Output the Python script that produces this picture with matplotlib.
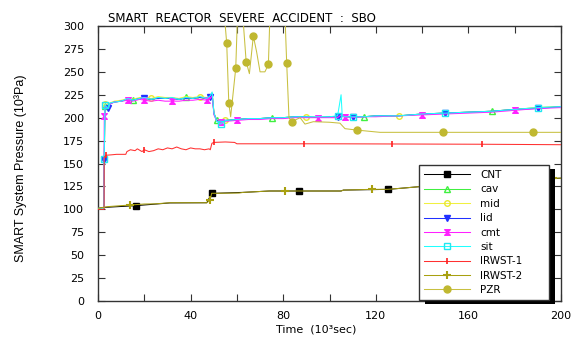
import matplotlib
matplotlib.use("Agg")
import matplotlib.pyplot as plt
from matplotlib.path import Path
from matplotlib.patches import Rectangle
from matplotlib.ticker import MultipleLocator

# ---------------- data ----------------
# shared time grid for the RCS-like group (10^3 s)
t_grp = [0, 2.5, 2.7, 3.0, 4.5, 5.2, 7, 10, 13, 15, 18, 20, 23, 26, 29, 32, 35, 38, 41, 44,
         47, 48.5, 49.3, 50.1, 51.3, 53, 55, 60, 65, 70, 75, 80, 85, 90, 95, 100, 103.5,
         105, 105.5, 106.5, 110, 115, 120, 130, 140, 150, 160, 170, 180, 190, 200]

cav = [101, 101, 150, 213, 210, 216, 217, 218, 220, 219, 221, 221, 220, 222, 221, 221, 220, 222,
       221, 222, 221, 223, 226, 205, 197, 196, 197, 198, 199, 199, 200, 200, 201, 201, 200, 201,
       201, 203, 202, 201, 201, 201, 202, 202, 204, 205, 206, 207, 209, 211, 212]
mid = [101, 101, 152, 215, 211, 216, 218, 219, 221, 220, 222, 222, 221, 223, 222, 222, 221, 223,
       222, 223, 222, 224, 227, 205, 197, 196, 197, 198, 199, 199, 200, 200, 201, 201, 201, 201,
       201, 203, 202, 201, 201, 201, 202, 202, 204, 205, 206, 207, 209, 211, 212]
lid = [101, 101, 154, 212, 211, 215, 217, 218, 220, 219, 221, 221, 220, 221, 221, 221, 220, 221,
       221, 222, 221, 222, 226, 204, 197, 195, 197, 198, 199, 199, 200, 200, 201, 201, 200, 201,
       201, 204, 202, 201, 201, 201, 202, 202, 204, 205, 206, 207, 209, 210, 212]
cmt = [101, 101, 202, 212, 210, 215, 217, 218, 219, 218, 220, 219, 218, 219, 218, 218, 218, 219,
       219, 220, 219, 221, 224, 203, 196, 195, 196, 197, 198, 198, 199, 199, 200, 200, 200, 200,
       200, 203, 201, 201, 200, 201, 201, 202, 203, 204, 205, 206, 208, 210, 211]
sit = [101, 101, 155, 214, 210, 216, 217, 218, 221, 219, 221, 222, 220, 222, 221, 222, 220, 222,
       221, 223, 221, 224, 228, 205, 196, 193, 197, 198, 199, 199, 200, 200, 201, 201, 201, 201,
       202, 225, 202, 201, 201, 201, 202, 202, 204, 205, 206, 207, 209, 211, 212]

t_cnt = [0, 2, 16.3, 31, 47, 49.1, 50.5, 62.8, 74, 87, 105, 106, 125.4, 131, 140, 160, 180, 200]
cnt = [101, 102, 104, 107, 107.2, 117.5, 117.5, 118.5, 120, 120, 120, 121, 121.8, 123, 125, 128,
       131, 134]

t_irw1 = [0, 2.6, 2.7, 3.5, 6, 8, 12, 12.5, 14, 16, 17, 19, 20, 22, 24, 26, 28, 30, 32, 34, 36,
          38, 40, 42, 44, 46, 48, 48.5, 49.2, 50, 55, 59, 60, 89, 100, 127, 140, 166, 180, 200]
irwst1 = [100, 100, 157, 159, 159.5, 160, 160, 163, 165, 164, 166, 163, 165, 163, 164, 166, 165,
          167, 166, 168, 166, 165, 167, 166, 166, 165, 166, 165, 172, 173, 173.5, 173, 171.5,
          171.5, 171.5, 171.3, 171.2, 171, 170.8, 170.5]

t_irw2 = [0, 2, 4.5, 13.8, 20, 25, 31, 47, 48.4, 49.1, 50.5, 61, 62.8, 74, 80.8, 87, 105, 106,
          118.2, 125, 131, 140, 160, 180, 196.4, 200]
irwst2 = [101, 102, 103, 104.7, 105.8, 106, 107.2, 107.2, 110, 117.5, 117.5, 117.8, 118.5, 120,
          120, 120, 120, 121, 121.8, 121.8, 123, 125, 128, 131, 134, 134]

t_pzr = [0, 54, 55.6, 56.5, 57.3, 59.5, 60.5, 62, 64, 65.4, 67.1, 68.5, 70, 72.1, 73.6, 74.5,
         80.5, 81.5, 82.5, 83.7, 87.3, 89.4, 93, 100, 104.5, 106.7, 111.7, 121.8, 149, 188, 200]
pzr = [330, 330, 281, 216, 201, 254, 330, 330, 261, 248, 289, 272, 250, 250, 258, 330, 330, 260,
       200, 195.6, 200, 193, 195.6, 195, 194, 188, 186.5, 184, 184, 184, 184]

x_ticks = [0, 40, 80, 120, 160, 200]
y_ticks = [0, 25, 50, 75, 100, 125, 150, 175, 200, 225, 250, 275, 300]

# ---------------- figure ----------------
fig = plt.figure(figsize=(5.79, 3.38), dpi=100)
ax = fig.add_axes([98 / 579, 37 / 338, 463 / 579, 275 / 338])

hourglass = Path([(-1, 1), (1, 1), (-1, -1), (1, -1), (-1, 1)],
                 [Path.MOVETO, Path.LINETO, Path.LINETO, Path.LINETO, Path.CLOSEPOLY])

lw = 0.75
ax.plot(t_cnt, cnt, color='black', lw=lw, marker='s', ms=5, mfc='black', mec='black',
        markevery=[2, 5, 9, 12], label='CNT', zorder=3)
ax.plot(t_grp, cav, color='#40f040', lw=lw, marker='^', ms=4, mfc='none', mec='#40f040',
        markevery=[3, 9, 17, 24, 30, 41, 47], label='cav', zorder=3)
ax.plot(t_grp, mid, color='#f0f040', lw=lw, marker='o', ms=4, mfc='none', mec='#e8e830',
        markevery=[3, 12, 19, 26, 33, 43], label='mid', zorder=3)
ax.plot(t_grp, lid, color='#2030ff', lw=lw, marker='v', ms=4, mfc='#2030ff', mec='#2030ff',
        markevery=[2, 4, 11, 21, 36, 40, 45, 49], label='lid', zorder=3)
ax.plot(t_grp, cmt, color='#ff20ff', lw=lw, marker=hourglass, ms=4, mfc='#ff20ff',
        mec='#ff20ff', markevery=[2, 8, 11, 15, 20, 25, 27, 34, 39, 44, 48], label='cmt',
        zorder=3)
ax.plot(t_grp, sit, color='#20ffff', lw=lw, marker='s', ms=4.5, mfc='none', mec='#20e8f0',
        markevery=[2, 3, 25, 36, 40, 45, 49], label='sit', zorder=3)
ax.plot(t_irw1, irwst1, color='#ff3030', lw=lw, marker='|', ms=5, mec='#ff2020', mew=1.2,
        markevery=[3, 12, 29, 33, 35, 37], label='IRWST-1', zorder=3)
ax.plot(t_irw2, irwst2, color='#a8a010', lw=lw, marker='+', ms=6, mec='#a8a010', mew=1.5,
        markevery=[3, 8, 14, 18, 24], label='IRWST-2', zorder=4)
ax.plot(t_pzr, pzr, color='#c8c040', lw=lw, marker='o', ms=5, mfc='#c0b830', mec='#c0b830',
        markevery=[2, 3, 5, 8, 10, 14, 17, 19, 26, 28, 29], label='PZR', zorder=3)

ax.set_xlim(0, 200)
ax.set_ylim(0, 300)
ax.set_xticks(x_ticks)
ax.set_yticks(y_ticks)
ax.xaxis.set_minor_locator(MultipleLocator(20))
ax.tick_params(which='both', direction='in', top=True, right=True, length=5, width=0.8,
               colors='#333333', labelcolor='black')
ax.tick_params(axis='y', pad=10, labelsize=8)
ax.tick_params(axis='x', pad=7, labelsize=8)
for s in ax.spines.values():
    s.set_linewidth(1.0)
    s.set_color('#333333')

fig.text(108 / 579, 1 - 19 / 338, 'SMART  REACTOR  SEVERE  ACCIDENT  :  SBO', ha='left',
         va='center', fontsize=8.5, family='DejaVu Sans')
fig.text(21 / 579, 1 - 168 / 338, 'SMART System Pressure (10³Pa)', rotation=90, ha='center',
         va='center', fontsize=9, family=['Liberation Sans Narrow', 'Liberation Sans'])
fig.text(316 / 579, 1 - 330 / 338, 'Time  (10³sec)', ha='center', va='center', fontsize=8,
         family='DejaVu Sans')

leg = ax.legend(loc='upper left', bbox_to_anchor=(0.693, 0.029, 0.281, 0.466), mode='expand',
                borderaxespad=0, fontsize=7.5, handlelength=4.4, handletextpad=1.0,
                labelspacing=0.42, fancybox=False, framealpha=1, edgecolor='#333333',
                borderpad=0.5)
leg.get_frame().set_linewidth(1.0)
leg.set_zorder(10)

fig.canvas.draw()
bb = leg.get_window_extent()
shadow = Rectangle((bb.x0 + 6, bb.y0 - 4), bb.width, bb.height, transform=None,
                   facecolor='black', edgecolor='none', zorder=9)
ax.add_artist(shadow)
shadow.set_clip_on(False)

fig.savefig('out.png', dpi=100)
